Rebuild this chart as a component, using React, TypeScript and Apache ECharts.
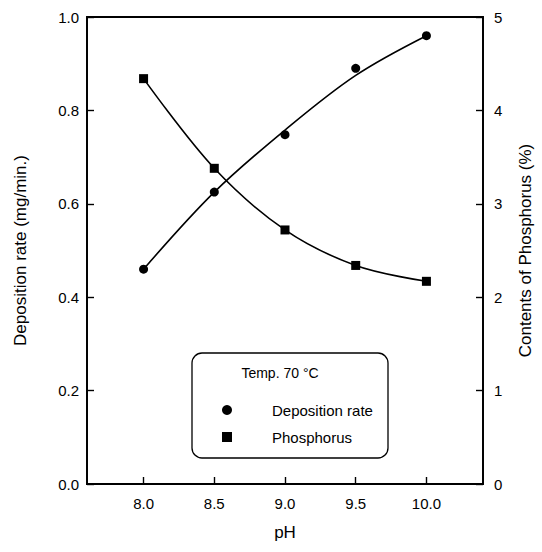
import React, { useEffect, useRef } from "react";
import * as echarts from "echarts";

const pH = [8.0, 8.5, 9.0, 9.5, 10.0];
// measured points
const depositionRate = [0.46, 0.625, 0.748, 0.89, 0.96];
const phosphorus = [4.34, 3.38, 2.72, 2.34, 2.17];
// fitted curves
const depositionFit = [0.46, 0.625, 0.758, 0.875, 0.96];
const phosphorusFit = [4.34, 3.38, 2.72, 2.34, 2.17];
const xTicks = [8.0, 8.5, 9.0, 9.5, 10.0];

const FONT = "Liberation Sans, Arial, sans-serif";

export default function App() {
  const ref = useRef<HTMLDivElement>(null);
  useEffect(() => {
    if (!ref.current) return;
    const chart = echarts.init(ref.current, null, { renderer: "svg" });
    const black = "#000";
    const axisCommon = {
      axisLine: { show: true, lineStyle: { color: black, width: 1.8 } },
      axisTick: { show: true, inside: true, length: 7, lineStyle: { color: black, width: 1.4 } },
      splitLine: { show: false },
      nameLocation: "middle" as const,
      nameTextStyle: { color: black, fontSize: 17, fontFamily: FONT },
    };
    const lineStyle = { color: black, width: 1.6 };
    chart.setOption({
      animation: false,
      backgroundColor: "#fff",
      textStyle: { fontFamily: FONT },
      grid: { left: 87, right: 57, top: 17, bottom: 68, show: true, borderColor: black, borderWidth: 1.8, backgroundColor: "transparent" },
      xAxis: {
        type: "value",
        min: 7.6,
        max: 10.4,
        name: "pH",
        nameGap: 40,
        ...axisCommon,
        axisTick: { ...axisCommon.axisTick, customValues: xTicks },
        axisLabel: {
          customValues: xTicks,
          formatter: (v: number) => v.toFixed(1),
          color: black,
          fontSize: 15,
          fontFamily: FONT,
          margin: 12,
        },
      },
      yAxis: [
        {
          type: "value",
          min: 0,
          max: 1,
          interval: 0.2,
          name: "Deposition rate (mg/min.)",
          nameGap: 58,
          position: "left",
          ...axisCommon,
          axisLabel: { formatter: (v: number) => v.toFixed(1), color: black, fontSize: 15, fontFamily: FONT, margin: 8 },
        },
        {
          type: "value",
          min: 0,
          max: 5,
          interval: 1,
          name: "Contents of Phosphorus (%)",
          nameGap: 34,
          position: "right",
          ...axisCommon,
          axisLabel: { formatter: (v: number) => String(v), color: black, fontSize: 15, fontFamily: FONT, margin: 11 },
        },
      ],
      series: [
        {
          name: "Deposition rate fit",
          type: "line",
          yAxisIndex: 0,
          data: pH.map((x, i) => [x, depositionFit[i]]),
          smooth: 0.35,
          showSymbol: false,
          symbol: "none",
          lineStyle,
        },
        {
          name: "Phosphorus fit",
          type: "line",
          yAxisIndex: 1,
          data: pH.map((x, i) => [x, phosphorusFit[i]]),
          smooth: 0.35,
          showSymbol: false,
          symbol: "none",
          lineStyle,
        },
        {
          name: "Deposition rate",
          type: "scatter",
          yAxisIndex: 0,
          data: pH.map((x, i) => [x, depositionRate[i]]),
          symbol: "circle",
          symbolSize: 9,
          itemStyle: { color: black, opacity: 1 },
          z: 3,
        },
        {
          name: "Phosphorus",
          type: "scatter",
          yAxisIndex: 1,
          data: pH.map((x, i) => [x, phosphorus[i]]),
          symbol: "rect",
          symbolSize: 9,
          itemStyle: { color: black, opacity: 1 },
          z: 3,
        },
      ],
      graphic: [
        {
          type: "rect",
          shape: { x: 192, y: 353, width: 196, height: 105, r: 10 },
          style: { fill: "#fff", stroke: black, lineWidth: 1.3 },
          z: 10,
        },
        {
          type: "text",
          x: 280,
          y: 373,
          style: { text: "Temp. 70 °C", fill: black, fontSize: 14, fontFamily: FONT, textAlign: "center", textVerticalAlign: "middle" },
          z: 11,
        },
        {
          type: "circle",
          shape: { cx: 227, cy: 410, r: 5 },
          style: { fill: black },
          z: 11,
        },
        {
          type: "text",
          x: 272,
          y: 410,
          style: { text: "Deposition rate", fill: black, fontSize: 15, fontFamily: FONT, textAlign: "left", textVerticalAlign: "middle" },
          z: 11,
        },
        {
          type: "rect",
          shape: { x: 222, y: 432, width: 10, height: 10 },
          style: { fill: black },
          z: 11,
        },
        {
          type: "text",
          x: 272,
          y: 437,
          style: { text: "Phosphorus", fill: black, fontSize: 15, fontFamily: FONT, textAlign: "left", textVerticalAlign: "middle" },
          z: 11,
        },
      ],
    });
    return () => chart.dispose();
  }, []);
  return <div ref={ref} style={{ position: "fixed", left: 0, top: 0, width: 542, height: 552 }} />;
}
